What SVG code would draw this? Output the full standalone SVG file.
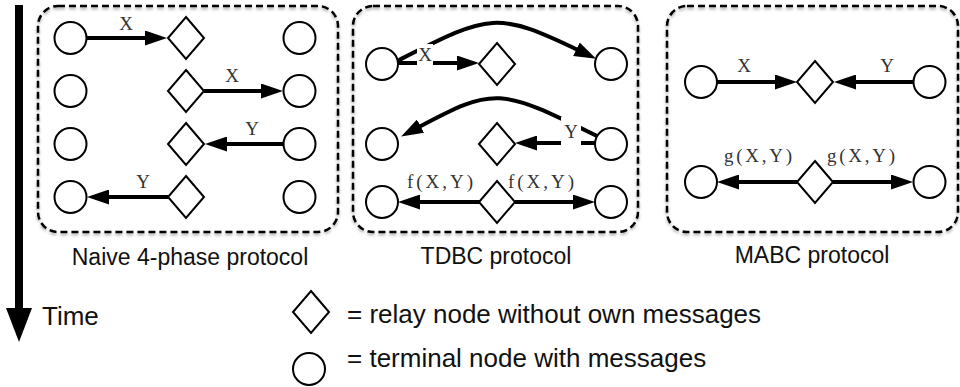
<svg xmlns="http://www.w3.org/2000/svg" width="960" height="387" viewBox="0 0 960 387">
<style>
.panel{fill:none;stroke:#000;stroke-width:2.5;stroke-dasharray:7 4;filter:url(#sh)}
.term{fill:#fff;stroke:#000;stroke-width:2}
.relay{fill:#fff;stroke:#000;stroke-width:2}
.conn{fill:none;stroke:#000;stroke-width:4;marker-end:url(#ah)}
.lbl{font-family:"Liberation Serif","Times New Roman",serif;font-size:19px;fill:#333;text-anchor:middle}
.cap{font-family:"Liberation Sans",Arial,sans-serif;font-size:23px;fill:#111;text-anchor:middle}
.leg{font-family:"Liberation Sans",Arial,sans-serif;font-size:26px;fill:#111}
.mask{fill:#fff}
</style>
<defs>
<filter id="sh" x="-5%" y="-5%" width="110%" height="115%">
<feDropShadow dx="0" dy="2" stdDeviation="1.5" flood-color="#000" flood-opacity="0.35"/>
</filter>
<marker id="ah" viewBox="0 0 22 15" refX="4" refY="7.5" markerWidth="22" markerHeight="15" markerUnits="userSpaceOnUse" orient="auto">
<path d="M0,0 L22,7.5 L0,15 z" fill="#000"/>
</marker>
</defs>

<g id="panels">
<rect id="panel-naive" class="panel" x="38" y="6" width="300" height="226" rx="20"/>
<rect id="panel-tdbc" class="panel" x="353" y="6" width="285" height="226" rx="20"/>
<rect id="panel-mabc" class="panel" x="667" y="6" width="291" height="226" rx="20"/>
</g>

<g id="connectors">
<line class="conn" x1="87" y1="38" x2="149" y2="38"/>
<line class="conn" x1="204" y1="91" x2="265" y2="91"/>
<line class="conn" x1="283" y1="144" x2="223" y2="144"/>
<line class="conn" x1="168" y1="197" x2="105" y2="197"/>
<line class="conn" x1="398" y1="63" x2="461" y2="63"/>
<path class="conn" d="M397,61 C490,14 495,10 580,51"/>
<path class="conn" d="M597,136 C500,88 495,86 417,128"/>
<line class="conn" x1="597" y1="143" x2="533" y2="143"/>
<line class="conn" x1="480" y1="202" x2="416" y2="202"/>
<line class="conn" x1="515" y1="202" x2="577" y2="202"/>
<line class="conn" x1="717" y1="82" x2="779" y2="82"/>
<line class="conn" x1="913" y1="82" x2="852" y2="82"/>
<line class="conn" x1="797" y1="182" x2="735" y2="182"/>
<line class="conn" x1="833" y1="182" x2="895" y2="182"/>
</g>

<g id="nodes">
<g id="n-naive-l1"><circle class="term" cx="70.5" cy="38" r="16"/></g>
<g id="n-naive-l2"><circle class="term" cx="70.5" cy="91" r="16"/></g>
<g id="n-naive-l3"><circle class="term" cx="70.5" cy="144" r="16"/></g>
<g id="n-naive-l4"><circle class="term" cx="70.5" cy="197" r="16"/></g>
<g id="n-naive-r1"><circle class="term" cx="299.5" cy="38" r="16"/></g>
<g id="n-naive-r2"><circle class="term" cx="299.5" cy="91" r="16"/></g>
<g id="n-naive-r3"><circle class="term" cx="299.5" cy="144" r="16"/></g>
<g id="n-naive-r4"><circle class="term" cx="299.5" cy="197" r="16"/></g>
<g id="n-naive-d1"><polygon class="relay" points="186,17 204,38 186,59 168,38"/></g>
<g id="n-naive-d2"><polygon class="relay" points="186,70 204,91 186,112 168,91"/></g>
<g id="n-naive-d3"><polygon class="relay" points="186,123 204,144 186,165 168,144"/></g>
<g id="n-naive-d4"><polygon class="relay" points="186,176 204,197 186,218 168,197"/></g>

<g id="n-tdbc-l1"><circle class="term" cx="382" cy="64" r="16"/></g>
<g id="n-tdbc-l2"><circle class="term" cx="382" cy="144" r="16"/></g>
<g id="n-tdbc-l3"><circle class="term" cx="382" cy="202" r="16"/></g>
<g id="n-tdbc-r1"><circle class="term" cx="611" cy="64" r="16"/></g>
<g id="n-tdbc-r2"><circle class="term" cx="611" cy="144" r="16"/></g>
<g id="n-tdbc-r3"><circle class="term" cx="611" cy="202" r="16"/></g>
<g id="n-tdbc-d1"><polygon class="relay" points="497,43 515,64 497,85 479,64"/></g>
<g id="n-tdbc-d2"><polygon class="relay" points="497,123 515,144 497,165 479,144"/></g>
<g id="n-tdbc-d3"><polygon class="relay" points="497,181 515,202 497,223 479,202"/></g>

<g id="n-mabc-l1"><circle class="term" cx="701" cy="82" r="16"/></g>
<g id="n-mabc-l2"><circle class="term" cx="701" cy="182" r="16"/></g>
<g id="n-mabc-r1"><circle class="term" cx="929.5" cy="82" r="16"/></g>
<g id="n-mabc-r2"><circle class="term" cx="929.5" cy="182" r="16"/></g>
<g id="n-mabc-d1"><polygon class="relay" points="815,61 833,82 815,103 797,82"/></g>
<g id="n-mabc-d2"><polygon class="relay" points="815,161 833,182 815,203 797,182"/></g>
</g>

<g id="labels">
<text class="lbl" x="126" y="30">X</text>
<text class="lbl" x="232" y="82">X</text>
<text class="lbl" x="252" y="135">Y</text>
<text class="lbl" x="143" y="188">Y</text>
<rect class="mask" x="417" y="44" width="16" height="23"/>
<text class="lbl" x="425" y="61">X</text>
<rect class="mask" x="561" y="117" width="20" height="30"/>
<text class="lbl" x="571" y="138">Y</text>
<text class="lbl" x="440" y="188" textLength="66" lengthAdjust="spacing">f(X,Y)</text>
<text class="lbl" x="541" y="188" textLength="66" lengthAdjust="spacing">f(X,Y)</text>
<text class="lbl" x="744" y="72">X</text>
<text class="lbl" x="887" y="72">Y</text>
<text class="lbl" x="758" y="162" textLength="68" lengthAdjust="spacing">g(X,Y)</text>
<text class="lbl" x="861" y="162" textLength="68" lengthAdjust="spacing">g(X,Y)</text>
</g>

<g id="captions">
<text class="cap" x="190" y="265">Naive 4-phase protocol</text>
<text class="cap" x="496" y="264">TDBC protocol</text>
<text class="cap" x="812" y="263">MABC protocol</text>
</g>

<g id="time-axis">
<rect x="15" y="5" width="8" height="306" fill="#000"/>
<polygon points="6,308 32,308 19,342" fill="#000"/>
<text class="leg" x="42" y="325">Time</text>
</g>

<g id="legend">
<g id="legend-relay"><polygon class="relay" points="311,291 329,312 311,333 293,312"/></g>
<text class="leg" x="347" y="323">= relay node without own messages</text>
<g id="legend-terminal"><circle class="term" cx="309" cy="369" r="16"/></g>
<text class="leg" x="347" y="367">= terminal node with messages</text>
</g>
</svg>
